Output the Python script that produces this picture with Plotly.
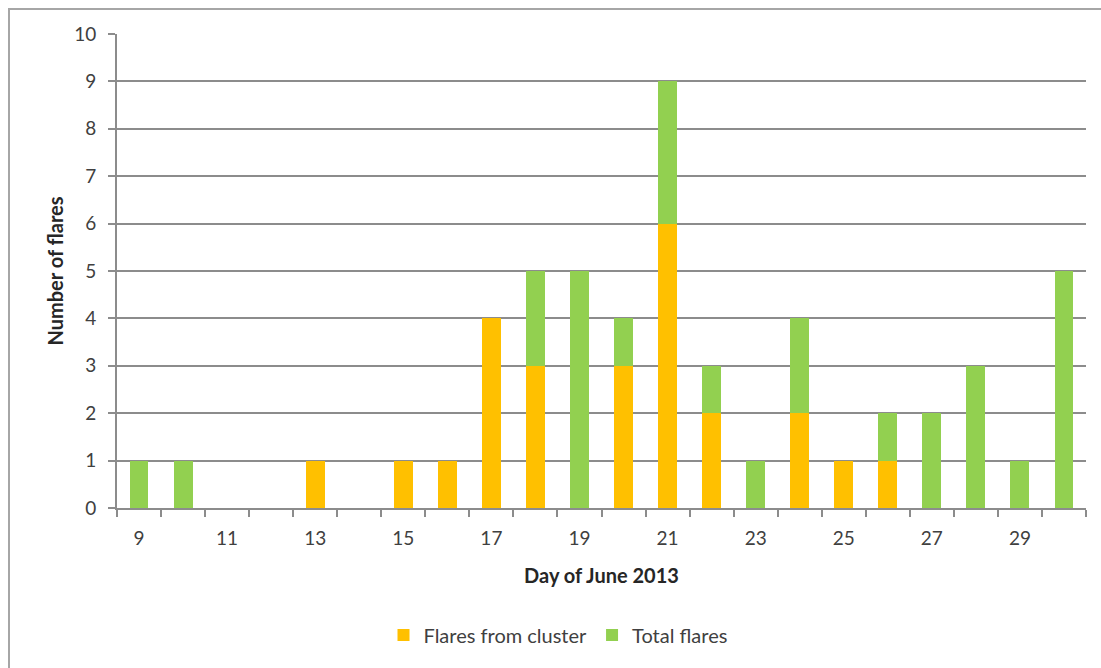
import plotly.graph_objects as go

# Daily flare counts, June 2013
days = list(range(9, 31))
cluster_flares = [0, 0, 0, 0, 1, 0, 1, 1, 4, 3, 0, 3, 6, 2, 0, 2, 1, 1, 0, 0, 0, 0]
total_flares = [1, 1, 0, 0, 1, 0, 1, 1, 4, 5, 5, 4, 9, 3, 1, 4, 1, 2, 2, 3, 1, 5]
x_tick_labels = [9, 11, 13, 15, 17, 19, 21, 23, 25, 27, 29]

# The green segment tops each stack out at the day's total
remaining = [t - c for t, c in zip(total_flares, cluster_flares)]

FONT = "Lato, 'Open Sans', sans-serif"
TEXT = "#404040"
TITLE = "#262626"
GRID = "#8c8c8c"

fig = go.Figure()
fig.add_trace(go.Bar(
    x=days, y=cluster_flares, name="Flares from cluster",
    marker=dict(color="#FFC000", line=dict(width=0)),
    customdata=cluster_flares,
    hovertemplate="Day %{x}: %{customdata}<extra>Flares from cluster</extra>",
))
fig.add_trace(go.Bar(
    x=days, y=remaining, name="Total flares",
    marker=dict(color="#92D050", line=dict(width=0)),
    customdata=total_flares,
    hovertemplate="Day %{x}: %{customdata}<extra>Total flares</extra>",
))

L, R, T, B = 117, 15, 34, 160
W, H = 1101, 668
pw, ph = W - L - R, H - T - B

fig.update_layout(
    width=W, height=H,
    margin=dict(l=L, r=R, t=T, b=B),
    barmode="stack", bargap=0.57,
    plot_bgcolor="white", paper_bgcolor="white",
    font=dict(family=FONT, size=19, color=TEXT),
    showlegend=True,
    legend=dict(
        orientation="h", traceorder="normal",
        x=(558 - L) / pw, xanchor="center",
        y=(H - B - 635) / ph, yanchor="middle",
        font=dict(size=20, color=TEXT),
        itemwidth=30, tracegroupgap=0,
    ),
    xaxis=dict(
        range=[8.5, 30.5],
        tickmode="array", tickvals=x_tick_labels,
        ticks="", showgrid=False, zeroline=False,
        showline=True, linecolor=GRID, linewidth=2,
        tickfont=dict(size=19, color=TEXT),
        ticklabelstandoff=12,
        minor=dict(tickmode="linear", tick0=8.5, dtick=1, ticks="outside",
                   ticklen=7, tickcolor=GRID, tickwidth=2, showgrid=False),
        title=dict(text="<b>Day of June 2013</b>", font=dict(size=20, color=TITLE),
                   standoff=21),
        fixedrange=True,
    ),
    yaxis=dict(
        range=[0, 10], dtick=1, tick0=0,
        ticks="outside", ticklen=7, tickcolor=GRID, tickwidth=2,
        showgrid=True, gridcolor=GRID, gridwidth=2,
        zeroline=False,
        showline=True, linecolor=GRID, linewidth=2,
        tickfont=dict(size=19, color=TEXT),
        ticklabelstandoff=8,
        title=dict(text="<b>Number of flares</b>", font=dict(size=20, color=TITLE),
                   standoff=5),
        fixedrange=True,
    ),
)

# Chart-area frame around the whole figure
fig.add_shape(
    type="rect", xref="paper", yref="paper",
    x0=(9 - L) / pw, x1=(W + 20 - L) / pw,
    y0=(H - B - (H + 20)) / ph, y1=(H - B - 9) / ph,
    line=dict(color="#a6a6a6", width=2), fillcolor="rgba(0,0,0,0)", layer="below",
)

fig.write_html("out.html")
